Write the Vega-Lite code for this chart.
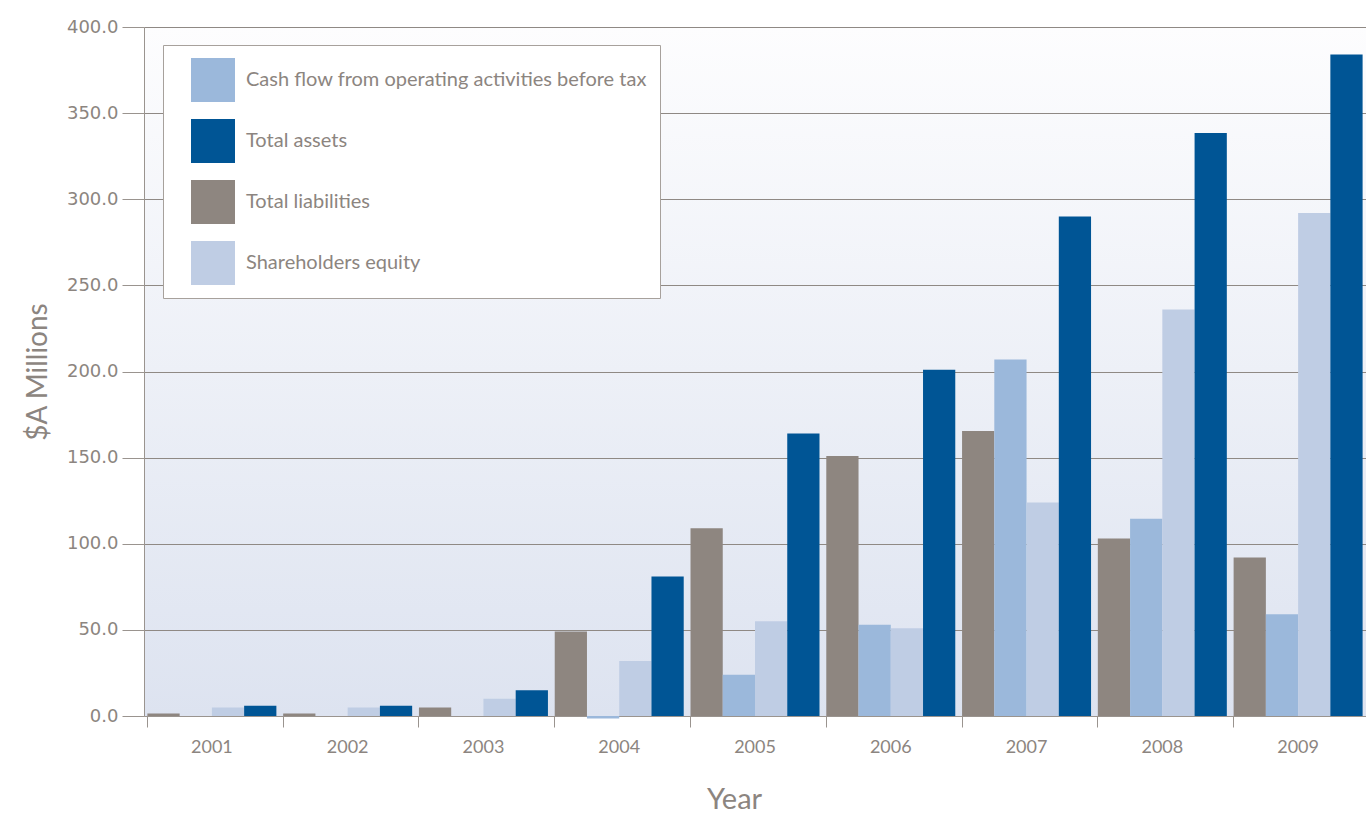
{
  "$schema": "https://vega.github.io/schema/vega-lite/v6.json",
  "autosize": {"type": "none"},
  "padding": {"left": 144, "top": 27, "right": 0, "bottom": 101},
  "width": 1222,
  "height": 689,
  "background": "#ffffff",
  "data": {
    "values": [
      {"year": "2001", "series": "Total liabilities", "value": 1.5},
      {"year": "2001", "series": "Cash flow from operating activities before tax", "value": 0},
      {"year": "2001", "series": "Shareholders equity", "value": 5},
      {"year": "2001", "series": "Total assets", "value": 6},
      {"year": "2002", "series": "Total liabilities", "value": 1.5},
      {"year": "2002", "series": "Cash flow from operating activities before tax", "value": 0},
      {"year": "2002", "series": "Shareholders equity", "value": 5},
      {"year": "2002", "series": "Total assets", "value": 6},
      {"year": "2003", "series": "Total liabilities", "value": 5},
      {"year": "2003", "series": "Cash flow from operating activities before tax", "value": 0},
      {"year": "2003", "series": "Shareholders equity", "value": 10},
      {"year": "2003", "series": "Total assets", "value": 15},
      {"year": "2004", "series": "Total liabilities", "value": 49},
      {"year": "2004", "series": "Cash flow from operating activities before tax", "value": -1.5},
      {"year": "2004", "series": "Shareholders equity", "value": 32},
      {"year": "2004", "series": "Total assets", "value": 81},
      {"year": "2005", "series": "Total liabilities", "value": 109},
      {"year": "2005", "series": "Cash flow from operating activities before tax", "value": 24},
      {"year": "2005", "series": "Shareholders equity", "value": 55},
      {"year": "2005", "series": "Total assets", "value": 164},
      {"year": "2006", "series": "Total liabilities", "value": 151},
      {"year": "2006", "series": "Cash flow from operating activities before tax", "value": 53},
      {"year": "2006", "series": "Shareholders equity", "value": 51},
      {"year": "2006", "series": "Total assets", "value": 201},
      {"year": "2007", "series": "Total liabilities", "value": 165.5},
      {"year": "2007", "series": "Cash flow from operating activities before tax", "value": 207},
      {"year": "2007", "series": "Shareholders equity", "value": 124},
      {"year": "2007", "series": "Total assets", "value": 290},
      {"year": "2008", "series": "Total liabilities", "value": 103},
      {"year": "2008", "series": "Cash flow from operating activities before tax", "value": 114.5},
      {"year": "2008", "series": "Shareholders equity", "value": 236},
      {"year": "2008", "series": "Total assets", "value": 338.5},
      {"year": "2009", "series": "Total liabilities", "value": 92},
      {"year": "2009", "series": "Cash flow from operating activities before tax", "value": 59},
      {"year": "2009", "series": "Shareholders equity", "value": 292},
      {"year": "2009", "series": "Total assets", "value": 384}
    ]
  },
  "mark": {"type": "bar"},
  "encoding": {
    "x": {
      "field": "year",
      "type": "nominal",
      "scale": {"paddingInner": 0.05, "paddingOuter": 0.025},
      "axis": {
        "title": "Year",
        "labelAngle": 0,
        "bandPosition": 0,
        "grid": false,
        "tickSize": 11,
        "labelPadding": 11,
        "labelFont": "Lato",
        "labelFontSize": 18,
        "labelColor": "#8c8580",
        "titleFont": "Lato",
        "titleFontSize": 29,
        "titleFontWeight": "normal",
        "titleColor": "#8c8580",
        "titlePadding": 29,
        "titleX": 590,
        "domainColor": "#9a948f",
        "tickColor": "#9a948f"
      }
    },
    "xOffset": {
      "field": "series",
      "type": "nominal",
      "sort": ["Total liabilities", "Cash flow from operating activities before tax", "Shareholders equity", "Total assets"],
      "scale": {"paddingInner": 0, "paddingOuter": 0}
    },
    "y": {
      "field": "value",
      "type": "quantitative",
      "scale": {"domain": [0, 400], "nice": false},
      "axis": {
        "title": "$A Millions",
        "values": [0, 50, 100, 150, 200, 250, 300, 350, 400],
        "format": ".1f",
        "tickSize": 22,
        "labelPadding": 4,
        "labelFont": "DejaVu Sans",
        "labelFontSize": 18,
        "labelColor": "#8c8580",
        "titleFont": "Lato",
        "titleFontSize": 28,
        "titleFontWeight": "normal",
        "titleColor": "#8c8580",
        "titlePadding": 14,
        "gridColor": "#8f8984",
        "gridWidth": 1,
        "domainColor": "#9a948f",
        "tickColor": "#9a948f"
      }
    },
    "color": {
      "field": "series",
      "type": "nominal",
      "scale": {
        "domain": ["Cash flow from operating activities before tax", "Total assets", "Total liabilities", "Shareholders equity"],
        "range": ["#9bb8db", "#005595", "#8e8680", "#bfcde4"]
      },
      "legend": {
        "title": null,
        "orient": "none",
        "legendX": 19,
        "legendY": 18,
        "direction": "vertical",
        "fillColor": "#ffffff",
        "strokeColor": "#a7a19c",
        "padding": 13,
        "symbolType": "square",
        "symbolSize": 1936,
        "symbolStrokeWidth": 0,
        "symbolOpacity": 1,
        "symbolOffset": 15,
        "labelFont": "Lato",
        "labelFontSize": 20,
        "labelColor": "#8c8580",
        "labelOffset": 11,
        "labelLimit": 0,
        "rowPadding": 17
      }
    }
  },
  "config": {
    "view": {
      "stroke": null,
      "fill": {
        "gradient": "linear",
        "x1": 0, "y1": 0, "x2": 0, "y2": 1,
        "stops": [
          {"offset": 0, "color": "#fdfdfe"},
          {"offset": 1, "color": "#dde3f0"}
        ]
      }
    }
  }
}
